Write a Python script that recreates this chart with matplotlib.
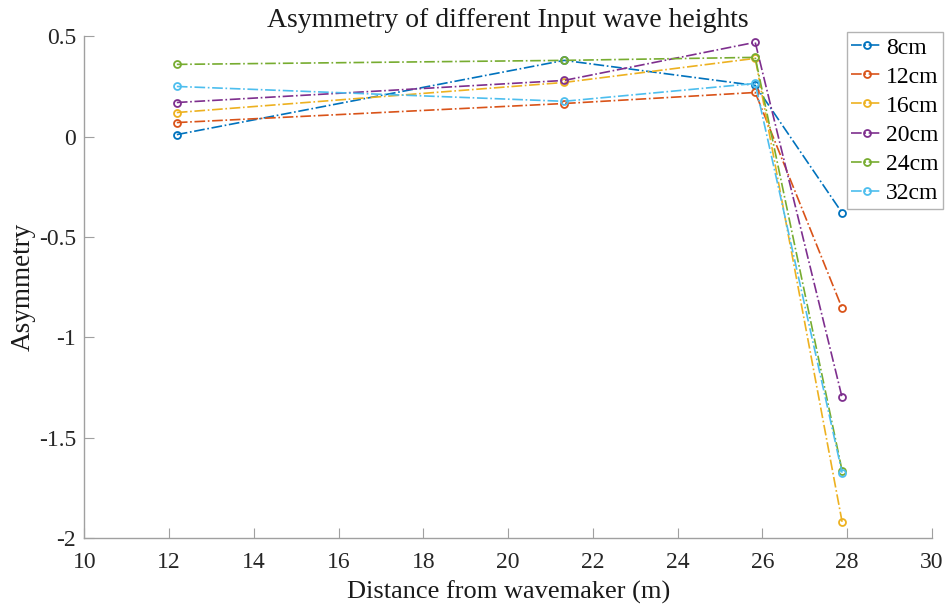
import matplotlib.pyplot as plt

plt.rcParams['font.family'] = ['Liberation Serif', 'DejaVu Serif']

x = [12.18, 21.32, 25.83, 27.88]
labels = ['8cm', '12cm', '16cm', '20cm', '24cm', '32cm']
h8 = [0.01, 0.38, 0.255, -0.38]
h12 = [0.07, 0.165, 0.22, -0.855]
h16 = [0.12, 0.27, 0.39, -1.92]
h20 = [0.17, 0.28, 0.47, -1.30]
h24 = [0.36, 0.38, 0.395, -1.665]
h32 = [0.25, 0.176, 0.265, -1.675]
series = [h8, h12, h16, h20, h24, h32]
colors = ['#0072BD', '#D95319', '#EDB120', '#7E2F8E', '#77AC30', '#4DBEEE']

fig = plt.figure(figsize=(9.49, 6.05), dpi=100)
ax = fig.add_axes([0.089, 0.111, 0.893, 0.829])

for y, c, lab in zip(series, colors, labels):
    ax.plot(x, y, '-.', color=c, lw=1.2, marker='o', ms=5,
            mfc='none', mew=1.3, label=lab)

ax.set_xlim(10, 30)
ax.set_ylim(-2, 0.5)
ax.set_xticks(range(10, 31, 2))
ax.set_yticks([-2, -1.5, -1, -0.5, 0, 0.5])
ax.set_yticklabels(['-2', '-1.5', '-1', '-0.5', '0', '0.5'])

for s in ['top', 'right']:
    ax.spines[s].set_visible(False)
for s in ['left', 'bottom']:
    ax.spines[s].set_color('#A0A0A0')
    ax.spines[s].set_linewidth(1.0)
ax.tick_params(direction='in', length=7, color='#A0A0A0', labelsize=17,
               labelcolor='#262626')
ax.tick_params(axis='x', pad=10)
ax.tick_params(axis='y', pad=6)

ax.set_title('Asymmetry of different Input wave heights', fontsize=20,
             color='#1a1a1a', pad=7)
ax.set_xlabel('Distance from wavemaker (m)', fontsize=19, color='#1a1a1a', labelpad=6)
ax.set_ylabel('Asymmetry', fontsize=19.5, color='#1a1a1a', labelpad=2)

leg = ax.legend(loc='upper right', bbox_to_anchor=(1.013, 1.008), fontsize=17,
                frameon=True, fancybox=False, borderpad=0.2, labelspacing=0.32,
                handlelength=1.3, handletextpad=0.15, borderaxespad=0.0)
leg.get_frame().set_edgecolor('#A0A0A0')
leg.get_frame().set_linewidth(1.0)

fig.savefig('out.png', dpi=100)
